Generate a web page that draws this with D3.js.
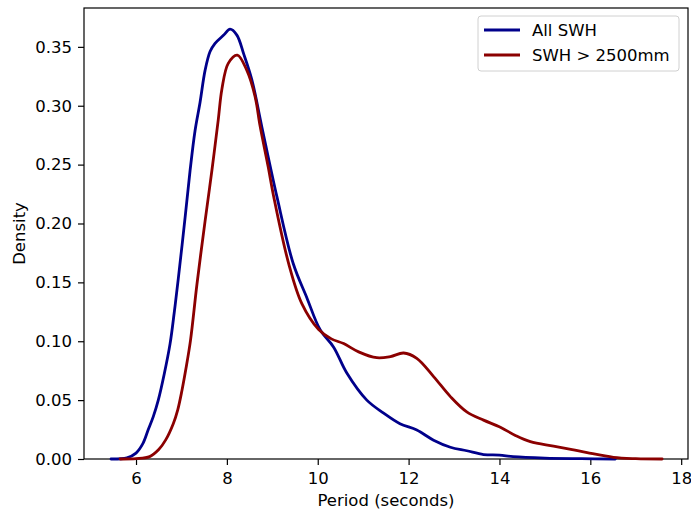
<!DOCTYPE html>
<html>
<head>
<meta charset="utf-8">
<script src="https://cdn.jsdelivr.net/npm/d3@7/dist/d3.min.js"></script>
<style>
  html, body { margin: 0; padding: 0; background: #ffffff; }
  svg { display: block; font-family: "DejaVu Sans", sans-serif; }
</style>
</head>
<body>
<svg id="chart" width="691" height="513"></svg>
<script>
// Period (seconds) and KDE density for all significant wave heights
const allPeriod = [5.45, 5.8, 6.0, 6.15, 6.27, 6.38, 6.49, 6.62, 6.75, 6.84, 6.93, 7.08, 7.19, 7.30, 7.41, 7.52, 7.63, 7.74, 7.93, 8.07, 8.22, 8.37, 8.55, 8.77, 9.10, 9.46, 9.76, 10.05, 10.35, 10.64, 11.08, 11.45, 11.81, 12.18, 12.55, 12.92, 13.28, 13.65, 14.0, 14.3, 15.0, 15.8, 16.55];
const allDensity = [0, 0.001, 0.005, 0.013, 0.025, 0.036, 0.050, 0.072, 0.098, 0.124, 0.153, 0.205, 0.245, 0.279, 0.303, 0.330, 0.346, 0.353, 0.360, 0.365, 0.360, 0.344, 0.322, 0.282, 0.223, 0.166, 0.137, 0.110, 0.095, 0.073, 0.050, 0.039, 0.030, 0.0246, 0.016, 0.010, 0.007, 0.0038, 0.0033, 0.002, 0.0008, 0.0003, 0];

// Period and density for SWH > 2500mm
const bigPeriod = [5.65, 6.0, 6.3, 6.5, 6.65, 6.82, 6.92, 7.01, 7.1, 7.2, 7.34, 7.52, 7.67, 7.81, 7.89, 8.03, 8.23, 8.44, 8.62, 8.73, 8.91, 9.03, 9.36, 9.65, 10.02, 10.3, 10.57, 10.9, 11.30, 11.6, 11.89, 12.18, 12.55, 12.92, 13.28, 13.65, 14.02, 14.35, 14.68, 15.19, 15.6, 15.93, 16.51, 17.0, 17.58];
const bigDensity = [0, 0.0003, 0.002, 0.008, 0.016, 0.030, 0.042, 0.058, 0.077, 0.101, 0.148, 0.202, 0.245, 0.288, 0.314, 0.336, 0.343, 0.330, 0.308, 0.283, 0.248, 0.223, 0.166, 0.132, 0.110, 0.102, 0.098, 0.091, 0.086, 0.087, 0.090, 0.0855, 0.070, 0.053, 0.040, 0.033, 0.027, 0.020, 0.0147, 0.011, 0.008, 0.0054, 0.0014, 0.0003, 0];

const seriesNames = ["All SWH", "SWH > 2500mm"];
const seriesColors = ["#00008b", "#8b0000"];
const xTicks = [6, 8, 10, 12, 14, 16, 18];
const yTicks = [0, 0.05, 0.10, 0.15, 0.20, 0.25, 0.30, 0.35];

const svg = d3.select("#chart");
const m = { left: 84, top: 8, right: 688, bottom: 459 };

const x = d3.scaleLinear().domain([4.855, 18.15]).range([m.left, m.right]);
const y = d3.scaleLinear().domain([0, 0.383]).range([m.bottom, m.top]);

const fontSize = 16.5;

// axes
const xAxis = svg.append("g")
  .attr("transform", `translate(0,${m.bottom})`)
  .call(d3.axisBottom(x).tickValues(xTicks).tickSize(6).tickPadding(7).tickFormat(d3.format("d")));
const yAxis = svg.append("g")
  .attr("transform", `translate(${m.left},0)`)
  .call(d3.axisLeft(y).tickValues(yTicks).tickSize(6).tickPadding(6).tickFormat(d3.format(".2f")));

[xAxis, yAxis].forEach(g => {
  g.select(".domain").remove();
  g.selectAll("line").attr("stroke", "#000").attr("stroke-width", 1.2);
  g.selectAll("text").attr("fill", "#000").style("font-size", fontSize + "px").style("font-family", "DejaVu Sans, sans-serif");
});

// frame
svg.append("rect")
  .attr("x", m.left).attr("y", m.top)
  .attr("width", m.right - m.left).attr("height", m.bottom - m.top)
  .attr("fill", "none").attr("stroke", "#000").attr("stroke-width", 1.2);

// curves
const line = d3.line()
  .x(d => x(d[0]))
  .y(d => y(Math.max(0, d[1])))
  .curve(d3.curveCatmullRom.alpha(0.5));

const series = [
  d3.zip(allPeriod, allDensity),
  d3.zip(bigPeriod, bigDensity)
];

const plot = svg.append("g");
series.forEach((s, i) => {
  plot.append("path")
    .datum(s)
    .attr("d", line)
    .attr("fill", "none")
    .attr("stroke", seriesColors[i])
    .attr("stroke-width", 2.8)
    .attr("stroke-linejoin", "round")
    .attr("stroke-linecap", "round");
});

// axis labels
svg.append("text")
  .attr("x", (m.left + m.right) / 2)
  .attr("y", 506)
  .attr("text-anchor", "middle")
  .style("font-size", fontSize + "px")
  .text("Period (seconds)");

svg.append("text")
  .attr("transform", `translate(25,${(m.top + m.bottom) / 2}) rotate(-90)`)
  .attr("text-anchor", "middle")
  .style("font-size", fontSize + "px")
  .text("Density");

// legend
const lg = svg.append("g");
lg.append("rect")
  .attr("x", 478).attr("y", 16)
  .attr("width", 201).attr("height", 55)
  .attr("rx", 3).attr("ry", 3)
  .attr("fill", "#fff").attr("fill-opacity", 0.8)
  .attr("stroke", "#d0d0d0").attr("stroke-width", 1);

seriesNames.forEach((name, i) => {
  const cy = 30 + i * 25;
  lg.append("line")
    .attr("x1", 484).attr("x2", 520)
    .attr("y1", cy).attr("y2", cy)
    .attr("stroke", seriesColors[i]).attr("stroke-width", 2.8);
  lg.append("text")
    .attr("x", 532).attr("y", cy + 6)
    .style("font-size", fontSize + "px")
    .text(name);
});
</script>
</body>
</html>
